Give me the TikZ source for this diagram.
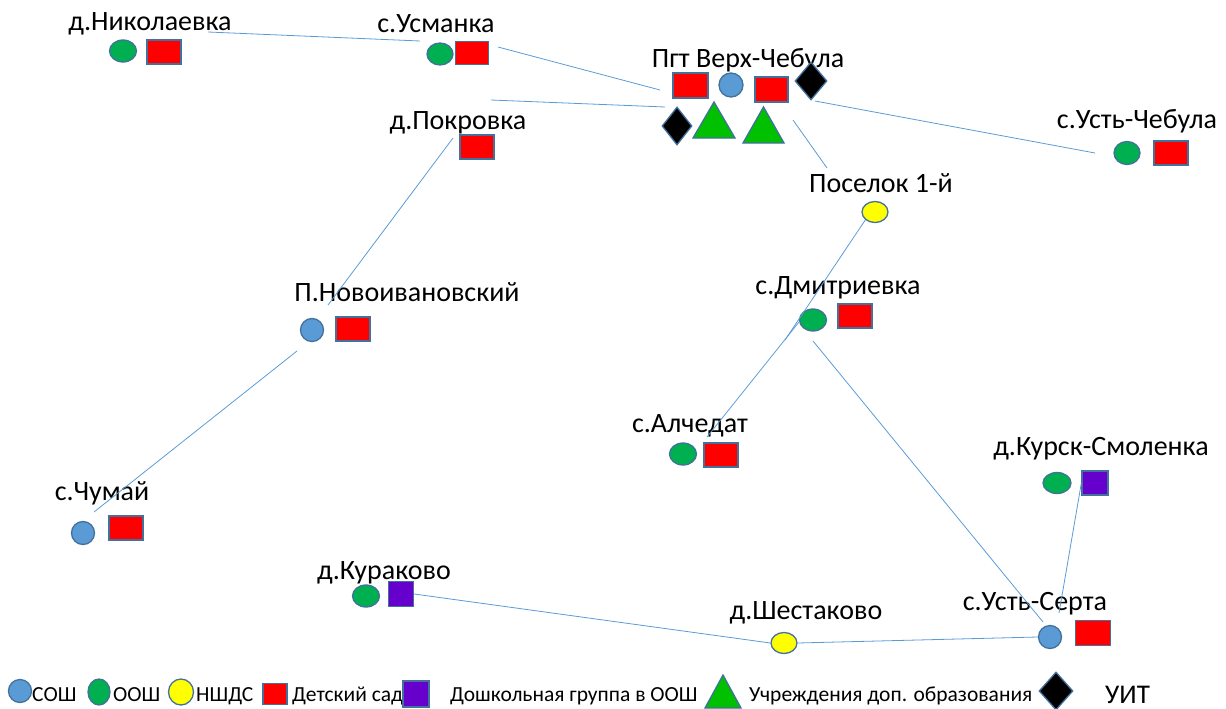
\documentclass[tikz,border=0pt]{standalone}
\usepackage{fontspec}
\setmainfont{Carlito}
\usetikzlibrary{shapes.geometric}
\definecolor{soshc}{HTML}{5B9BD5}
\definecolor{ooshc}{HTML}{00B050}
\definecolor{nshdsc}{HTML}{FFFF00}
\definecolor{sadc}{HTML}{FF0000}
\definecolor{dgrc}{HTML}{6600CC}
\definecolor{dopc}{HTML}{00C000}
\definecolor{outl}{HTML}{41719C}
\definecolor{linec}{HTML}{5B9BD5}
\tikzset{
  shp/.style={draw=outl, line width=1.3pt, inner sep=0pt},
  sosh/.style={shp, circle, fill=soshc, minimum size=23pt},
  oosh/.style={shp, ellipse, fill=ooshc, minimum width=27pt, minimum height=22pt},
  nshds/.style={shp, ellipse, fill=nshdsc, minimum width=26pt, minimum height=21pt},
  sad/.style={shp, rectangle, fill=sadc, minimum width=34pt, minimum height=24pt},
  dgr/.style={shp, rectangle, fill=dgrc, minimum width=25pt, minimum height=25pt},
  uit/.style={shp, diamond, fill=black, minimum width=32pt, minimum height=38pt},
  dop/.style={shp, fill=dopc, line join=miter},
  lbl/.style={font=\fontsize{28}{30}\selectfont, anchor=base, inner sep=0pt},
  leg/.style={font=\fontsize{21.5}{23}\selectfont, anchor=base west, inner sep=0pt},
  conn/.style={draw=linec, line width=0.8pt},
}
\begin{document}
\begin{tikzpicture}[x=1pt, y=-1pt]
\useasboundingbox (0,0) rectangle (1226,709);

% ---------- labels ----------
\node[lbl] (tNik)  at (150,31)  {д.Николаевка};
\node[lbl] (tUsm)  at (436,33)  {с.Усманка};
\node[lbl] (tPgt)  at (748,67)  {Пгт Верх-Чебула};
\node[lbl] (tPok)  at (458,129) {д.Покровка};
\node[lbl] (tUCh)  at (1137,128) {с.Усть-Чебула};
\node[lbl] (tPos)  at (881,192) {Поселок 1-й};
\node[lbl] (tNov)  at (407,301) {П.Новоивановский};
\node[lbl] (tDmi)  at (838,294) {с.Дмитриевка};
\node[lbl] (tAlc)  at (690,432) {с.Алчедат};
\node[lbl] (tChu)  at (102,500) {с.Чумай};
\node[lbl] (tKS)   at (1101,455) {д.Курск-Смоленка};
\node[lbl] (tKur)  at (384,579) {д.Кураково};
\node[lbl] (tShe)  at (806,619) {д.Шестаково};
\node[lbl] (tUSe)  at (1035,610) {с.Усть-Серта};

% ---------- connector end points ----------
\coordinate (cNik) at (208,32);
\coordinate (cUsmW) at (420,41);
\coordinate (cUsmE) at (498,47);
\coordinate (cPgtA) at (660,90);
\coordinate (cPokE) at (491,100);
\coordinate (cPgtB) at (665,107);
\coordinate (cPgtC) at (815,101);
\coordinate (cUCh) at (1095,153);
\coordinate (cPgtD) at (793,120);
\coordinate (cPosN) at (827,168);
\coordinate (cPokS) at (453,138);
\coordinate (cNovN) at (328,305);
\coordinate (cNovS) at (297,351);
\coordinate (cChu) at (94,512);
\coordinate (cDmiA) at (785,340);
\coordinate (cDmiB) at (799,322);
\coordinate (cAlc) at (707,437);
\coordinate (cDmiC) at (813,341);
\coordinate (cUSeA) at (1043,622);
\coordinate (cUSeB) at (1059,613);

% ---------- Пгт Верх-Чебула ----------
\node[sad, minimum width=35pt, minimum height=25pt] (pgtS1) at (690.5,85.5) {};
\node[sosh, minimum size=24pt] (pgtO) at (731,85) {};
\node[sad, minimum width=33pt, minimum height=25pt] (pgtS2) at (771.5,89.5) {};
\node[uit] (pgtU1) at (811,81) {};
\node[uit, minimum width=30pt] (pgtU2) at (677,126) {};
\filldraw[dop] (693,138) -- (735,138) -- (714,102) -- cycle;
\filldraw[dop] (743,143) -- (784,143) -- (763.5,107) -- cycle;

% ---------- other settlements ----------
\node[oosh] (nikO) at (123,51) {};
\node[sad]  (nikS) at (164,52) {};
\node[oosh, minimum width=26pt] (usmO) at (440,54) {};
\node[sad, minimum width=33pt, minimum height=23pt]  (usmS) at (472,53) {};
\node[sad]  (pokS) at (477,147) {};
\node[oosh, minimum width=26pt, minimum height=23pt] (uchO) at (1127,153) {};
\node[sad]  (uchS) at (1171,153) {};
\node[nshds] (posY) at (875,212) {};
\node[sosh] (novO) at (312,330) {};
\node[sad]  (novS) at (353,329) {};
\node[oosh] (dmiO) at (813,320) {};
\node[sad]  (dmiS) at (855,316) {};
\node[oosh] (alcO) at (683,454) {};
\node[sad]  (alcS) at (721,455) {};
\node[sosh] (chuO) at (83,533) {};
\node[sad]  (chuS) at (126,528) {};
\node[oosh, minimum width=28pt, minimum height=21pt] (ksO) at (1057,483) {};
\node[dgr, minimum width=26pt, minimum height=24pt] (ksD) at (1095,483) {};
\node[oosh] (kurO) at (366,596) {};
\node[dgr]  (kurD) at (401,594) {};
\node[nshds] (sheY) at (784,643) {};
\node[sosh] (useO) at (1050,637) {};
\node[sad, minimum width=35pt, minimum height=25pt]  (useS) at (1093,633) {};

% ---------- connectors ----------
\draw[conn] (cNik) -- (cUsmW);
\draw[conn] (cUsmE) -- (cPgtA);
\draw[conn] (cPokE) -- (cPgtB);
\draw[conn] (cPgtC) -- (cUCh);
\draw[conn] (cPgtD) -- (cPosN);
\draw[conn] (cPokS) -- (cNovN);
\draw[conn] (cNovS) -- (cChu);
\draw[conn] (posY.south west) -- (cDmiA);
\draw[conn] (cDmiB) -- (cAlc);
\draw[conn] (cDmiC) -- (cUSeA);
\draw[conn] (ksD.west) -- (cUSeB);
\draw[conn] (kurD.east) -- (sheY.west);
\draw[conn] (sheY.east) -- (useO.west);

% ---------- legend ----------
\node[sosh, minimum size=23pt] (lgA) at (20,691) {};
\node[leg] (lgAt) at (32,701) {СОШ};
\node[shp, ellipse, fill=ooshc, minimum width=22pt, minimum height=26pt] (lgB) at (99,692) {};
\node[leg] (lgBt) at (113,701) {ООШ};
\node[shp, ellipse, fill=nshdsc, minimum width=25pt, minimum height=26pt] (lgC) at (181,692) {};
\node[leg] (lgCt) at (196,701) {НШДС};
\node[sad, minimum width=24pt, minimum height=21pt] (lgD) at (275,694) {};
\node[leg] (lgDt) at (292,701) {Детский сад};
\node[dgr, minimum width=26pt, minimum height=26pt] (lgE) at (416,694) {};
\node[leg] (lgEt) at (450,701) {Дошкольная группа в ООШ};
\filldraw[dop] (705,708) -- (741,708) -- (723,675) -- cycle;
\node[leg] (lgFt) at (749,701) {Учреждения доп. образования};
\node[uit, minimum width=34pt, minimum height=38pt] (lgG) at (1056,691) {};
\node[leg, font=\fontsize{27}{29}\selectfont] (lgGt) at (1105,703) {УИТ};
\end{tikzpicture}
\end{document}
